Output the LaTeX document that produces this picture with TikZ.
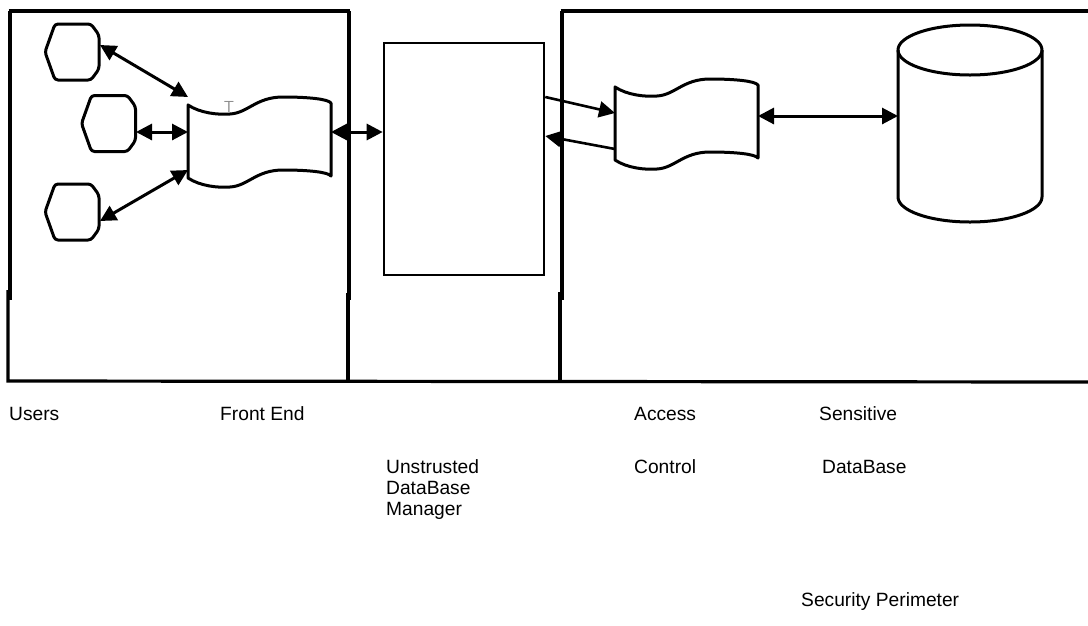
\documentclass[tikz,border=0pt]{standalone}
\usepackage{fontspec}
\setmainfont{Liberation Sans}
\usetikzlibrary{arrows.meta,calc}

\tikzset{
  frame/.style={line width=3.2pt},
  outline/.style={line width=3pt, line join=round},
  anchorbox/.style={inner sep=0pt, outer sep=0pt, draw=none},
  tip/.tip={Triangle[length=16pt,width=16pt]},
  both/.style={line width=3pt, tip-tip},
  one/.style={line width=2.6pt, -tip},
  caption/.style={anchor=base west, inner sep=0pt, font=\fontsize{19.2}{21}\selectfont},
}

% user terminal: pointed on the left, blunt on the right
\newcommand\userhex[3]{%
  \node[anchorbox, minimum width=54pt, minimum height=56pt] (#1) at (#2,#3) {};
  \draw[outline, rounded corners=3pt, shift={(#1.center)}]
    (-27,0) -- (-17,-28) -- (19,-28) -- (27,-17) -- (27,17) -- (19,28) -- (-17,28) -- cycle;
}

% wavy document, given by its top-left corner
\newcommand\wavedoc[3]{%
  \draw[outline, shift={(#2,#3)}]
    (0,0) .. controls (12,8) and (30,10) .. (42,9)
          .. controls (60,8) and (68,-8) .. (95,-8)
          .. controls (120,-8) and (140,-6) .. (143,-2)
    -- (143,71)
          .. controls (140,67) and (120,65) .. (95,65)
          .. controls (68,65) and (60,81) .. (42,82)
          .. controls (30,83) and (12,81) .. (0,73)
    -- cycle;
}

\begin{document}
\begin{tikzpicture}[x=1pt,y=-1pt]
\useasboundingbox (0,0) rectangle (1088,625);

% enclosing regions
\draw[frame] (10,11) -- (10,300);
\draw[frame] (8,290) -- (8,381) -- (1088,382);
\draw[frame] (8.5,11) -- (350,11);
\draw[frame] (349,11) -- (349,300);
\draw[frame] (348,293) -- (348,381);
\draw[frame] (562,11) -- (562,300);
\draw[frame] (560,292) -- (560,382);
\draw[frame] (560.5,11) -- (1088,11);

% users
\userhex{u1}{72}{52}
\userhex{u2}{108.5}{123.5}
\userhex{u3}{72}{212}

% front end
\node[anchorbox, minimum width=143pt, minimum height=73pt] (fe) at (259.5,133.5) {};
\wavedoc{fedoc}{188}{105}
\node[anchorbox, text=black!45, font=\sffamily\fontsize{16}{16}\selectfont] (tmark) at (229,107) {T};

% untrusted database manager
\node[draw, line width=2.6pt, minimum width=160pt, minimum height=232pt, inner sep=0pt] (udb) at (464,159) {};

% access control
\node[anchorbox, minimum width=143pt, minimum height=36pt] (ac) at (686.5,131) {};
\wavedoc{acdoc}{615}{87}

% sensitive database
\node[anchorbox, minimum width=144pt, minimum height=197pt] (db) at (970,123.5) {};
\draw[outline] (970,50) ellipse [x radius=72pt, y radius=25pt];
\draw[outline] (898,50) -- (898,197)
  arc[start angle=180, end angle=360, x radius=72pt, y radius=25pt] -- (1042,50);

% connectors
\draw[both] (100,45) -- (fe.north west);
\draw[both] (136,132) -- ([yshift=1.5pt]fe.west);
\draw[both] (100,221) -- (fe.south west);
\draw[both] (fe.east |- 0,132) -- ([yshift=27pt]udb.west);
\draw[one] ([yshift=62pt]udb.east) -- (ac.north west);
\draw[one] (ac.south west) -- ([yshift=23pt]udb.east);
\draw[both] ([yshift=15pt]ac.east) -- ([yshift=7.5pt]db.west);

% captions
\node[caption] (lusers) at (9,420) {Users};
\node[caption] (lfront) at (220,420) {Front End};
\node[caption] (lacc1) at (634,420) {Access};
\node[caption] (lsens1) at (819,420) {Sensitive};
\node[caption] (lun1) at (386,473) {Unstrusted};
\node[caption] (lun2) at (386,494) {DataBase};
\node[caption] (lun3) at (386,515) {Manager};
\node[caption] (lacc2) at (634,473) {Control};
\node[caption] (lsens2) at (822,473) {DataBase};
\node[caption] (lsec) at (801,606) {Security Perimeter};
\end{tikzpicture}
\end{document}
